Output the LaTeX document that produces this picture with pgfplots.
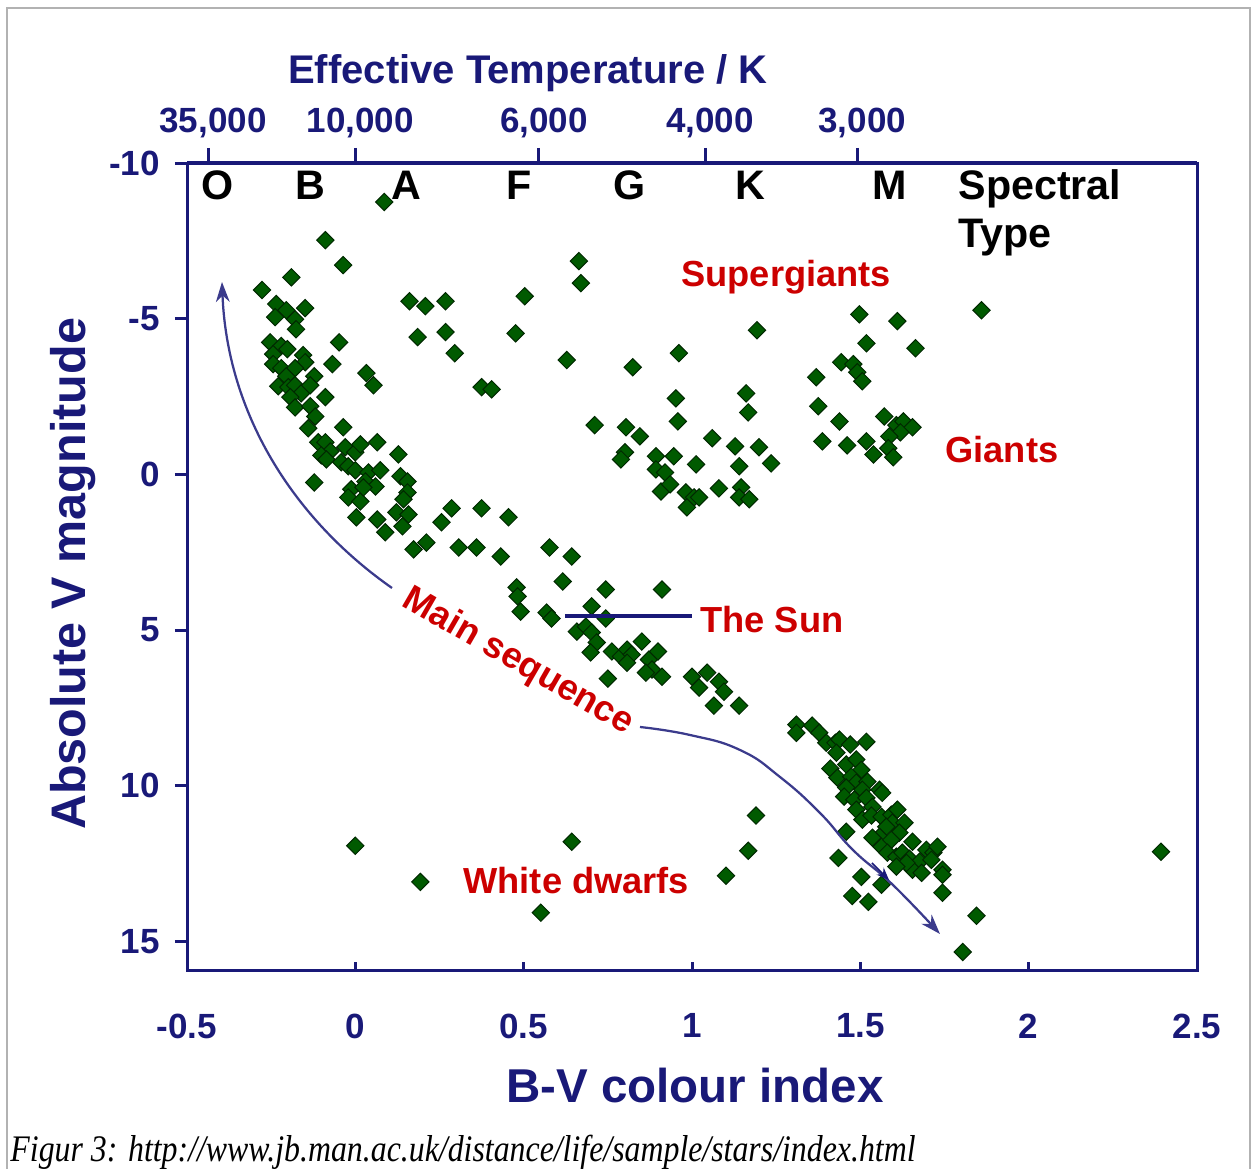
\documentclass[border=0pt]{standalone}
\usepackage{pgfplots}
\pgfplotsset{compat=1.18}
\usepackage{fontspec}
\setmainfont{Liberation Sans}
\newfontfamily\capfont{Liberation Serif}
\usetikzlibrary{arrows.meta}
\definecolor{navy}{RGB}{25,25,120}
\definecolor{lab}{RGB}{204,0,0}
\definecolor{star}{RGB}{0,90,0}
\definecolor{stare}{RGB}{0,40,0}
\begin{document}
\begin{tikzpicture}
\path[use as bounding box] (0pt,0pt) rectangle (500.8pt,-467.6pt);
\pgfplotsset{hr/.style={width=404pt,height=322.8pt,scale only axis,
  at={(74.8pt,-65.2pt)},anchor=north west,
  xmin=-0.5,xmax=2.5,ymin=-10,ymax=15.92,y dir=reverse,
  axis line style={navy,line width=1.2pt},
  tick style={navy,line width=1.2pt},
  ticklabel style={font=\fontsize{14}{16}\selectfont\bfseries,text=navy}}}
% main axis: data and bottom ticks
\begin{axis}[hr,
  xtick={-0.5,0,0.5,1,1.5,2,2.5},
  xticklabels={-0.5,0,0.5,1,1.5,2,2.5},
  xtick pos=bottom, tick align=inside, major tick length=3.2pt,
  xticklabel style={yshift=-14pt},
  ytick=\empty]
\addplot[only marks, mark=square*, mark size=2.45pt,
  mark options={rotate=45, fill=star, draw=stare, line width=0.4pt}]
coordinates {
(0.086,-8.75) (-0.089,-7.52) (-0.036,-6.72) (-0.190,-6.33) (-0.277,-5.92)
(-0.235,-5.47) (-0.205,-5.27) (-0.149,-5.34) (-0.238,-5.05) (-0.179,-4.98)
(-0.176,-4.66) (0.161,-5.56) (0.208,-5.40) (0.268,-5.56) (0.185,-4.41)
(0.268,-4.57) (0.295,-3.89) (-0.048,-4.24) (-0.068,-3.54) (0.033,-3.25)
(0.054,-2.86) (-0.253,-4.24) (-0.220,-4.12) (-0.202,-4.02) (-0.244,-3.86)
(-0.155,-3.83) (-0.149,-3.60) (-0.244,-3.54) (-0.220,-3.41) (-0.179,-3.41)
(-0.205,-3.15) (-0.122,-3.15) (-0.229,-2.83) (-0.199,-2.80) (-0.179,-2.86)
(-0.161,-2.60) (-0.134,-2.86) (-0.193,-2.48) (-0.179,-2.15) (-0.089,-2.48)
(-0.134,-2.19) (-0.119,-1.86) (-0.140,-1.48) (-0.036,-1.51) (-0.110,-1.03)
(-0.089,-1.03) (-0.074,-0.74) (-0.101,-0.61) (-0.086,-0.48) (-0.030,-0.87)
(0.000,-0.71) (0.015,-0.96) (0.065,-1.03) (-0.042,-0.39) (-0.021,-0.26)
(0.000,-0.13) (0.128,-0.64) (-0.122,0.26) (0.039,-0.06) (0.074,-0.13)
(0.030,0.23) (0.060,0.39) (-0.012,0.48) (-0.021,0.74) (0.015,0.87)
(0.024,0.42) (0.134,0.06) (0.155,0.23) (0.155,0.58) (0.143,0.80)
(0.122,1.22) (0.158,1.29) (0.140,1.67) (0.003,1.38) (0.065,1.45)
(0.089,1.86) (0.286,1.09) (0.375,1.09) (0.256,1.54) (0.455,1.38)
(0.211,2.19) (0.307,2.35) (0.360,2.35) (0.432,2.64) (0.173,2.41)
(0.577,2.35) (0.643,2.64) (0.616,3.44) (0.479,3.63) (0.482,3.92)
(0.491,4.41) (0.568,4.44) (0.583,4.63) (0.744,3.70) (0.911,3.70)
(0.702,4.24) (0.744,4.63) (0.658,5.05) (0.685,4.89) (0.702,5.08)
(0.717,5.40) (0.699,5.72) (0.762,5.69) (0.789,5.85) (0.807,5.63)
(0.821,5.79) (0.807,6.05) (0.851,5.37) (0.872,5.95) (0.899,5.69)
(0.881,6.27) (0.911,6.50) (0.863,6.37) (0.750,6.56) (1.000,6.50)
(1.045,6.37) (1.021,6.85) (1.080,6.66) (1.095,6.98) (1.065,7.43)
(1.140,7.43)
(0.664,-6.85) (0.670,-6.14) (0.503,-5.72) (0.476,-4.53) (0.375,-2.80)
(0.405,-2.73) (0.628,-3.67) (0.824,-3.44) (0.961,-3.89) (1.193,-4.63)
(0.952,-2.44) (0.958,-1.70) (1.161,-2.60) (1.167,-1.99) (0.711,-1.58)
(0.804,-1.51) (0.845,-1.22) (0.801,-0.71) (0.789,-0.48) (0.893,-0.58)
(0.946,-0.58) (1.060,-1.16) (1.128,-0.90) (1.199,-0.87) (1.235,-0.35)
(1.012,-0.32) (1.140,-0.26) (0.893,-0.16) (0.920,-0.06) (0.908,0.55)
(0.935,0.32) (0.982,0.58) (1.006,0.74) (1.021,0.74) (0.985,1.06)
(1.080,0.45) (1.146,0.42) (1.140,0.74) (1.170,0.80)
(1.369,-3.12) (1.375,-2.19) (1.438,-1.70) (1.387,-1.06) (1.461,-0.93)
(1.443,-3.60) (1.479,-3.54) (1.491,-3.28) (1.506,-2.99) (1.497,-5.14)
(1.610,-4.92) (1.860,-5.27) (1.518,-4.21) (1.664,-4.05) (1.518,-1.06)
(1.539,-0.64) (1.571,-1.86) (1.607,-1.58) (1.628,-1.70) (1.655,-1.51)
(1.619,-1.35) (1.586,-1.22) (1.583,-0.84) (1.598,-0.55)
(0.000,11.93) (0.193,13.09) (0.643,11.80) (0.551,14.08) (1.190,10.96)
(1.167,12.09) (1.101,12.89) (2.393,12.12) (1.845,14.18) (1.804,15.34)
(1.744,13.44)
(1.310,8.04) (1.310,8.30) (1.357,8.07) (1.378,8.30) (1.399,8.62)
(1.426,8.62) (1.438,8.52) (1.429,8.94) (1.470,8.68) (1.518,8.59)
(1.411,9.45) (1.432,9.74) (1.458,9.32) (1.488,9.16) (1.503,9.49)
(1.473,9.71) (1.488,9.90) (1.521,9.87) (1.458,10.06) (1.506,10.13)
(1.557,10.13) (1.565,10.23) (1.452,10.35) (1.482,10.45) (1.518,10.39)
(1.536,10.68) (1.488,10.77) (1.506,11.09) (1.533,10.96) (1.563,11.00)
(1.592,10.93) (1.610,10.77) (1.595,11.19) (1.631,11.19) (1.616,11.51)
(1.577,11.32) (1.557,11.64) (1.536,11.67) (1.563,11.96) (1.592,11.74)
(1.580,12.15) (1.607,12.28) (1.625,12.15) (1.655,11.80) (1.646,12.35)
(1.676,12.44) (1.696,12.06) (1.717,12.15) (1.729,11.96) (1.711,12.38)
(1.655,12.70) (1.682,12.80) (1.744,12.70) (1.744,12.86) (1.458,11.48)
(1.435,12.32) (1.503,12.93) (1.637,12.48) (1.607,12.60) (1.476,13.54)
(1.524,13.73) (1.563,13.18)
};
\end{axis}
% left axis ticks (outside)
\begin{axis}[hr, hide x axis,
  ytick={-10,-5,0,5,10,15},
  yticklabels={-10,-5,0,5,10,15},
  ytick pos=left, tick align=outside, major tick length=4.8pt,
  yticklabel style={xshift=-2.5pt}]
\end{axis}
% top temperature axis
\begin{axis}[hr, hide y axis, axis x line*=top,
  xtick={-0.4375,0,0.545,1.039,1.491},
  xticklabels={{35,000},{10,000},{6,000},{4,000},{3,000}},
  tick align=outside, major tick length=6pt,
  xticklabel style={yshift=0.5pt,xshift=2pt}]
\end{axis}
\begin{scope}[x=0.4pt,y=-0.4pt]
\draw[gray!60,line width=0.5pt] (7,8) rectangle (1250,1180);
% axis titles
\node[font=\fontsize{16}{18}\selectfont\bfseries,text=navy] at (528,73) {Effective Temperature / K};
\node[rotate=90,font=\fontsize{19.4}{22}\selectfont\bfseries,text=navy] at (73,574) {Absolute V magnitude};
\node[font=\fontsize{19}{22}\selectfont\bfseries,text=navy] at (695,1086) {B-V colour index};
% spectral types
\begin{scope}[every node/.style={font=\fontsize{16.5}{18}\selectfont\bfseries,anchor=base,inner sep=0pt}]
\node at (218,200) {O};
\node at (310,200) {B};
\node at (406,200) {A};
\node at (519,200) {F};
\node at (630,200) {G};
\node at (750,200) {K};
\node at (890,200) {M};
\node[anchor=base west] at (958,200) {Spectral};
\node[anchor=base west] at (958,248) {Type};
\end{scope}
% region labels
\begin{scope}[every node/.style={font=\fontsize{14.5}{16}\selectfont\bfseries,text=lab,inner sep=0pt,anchor=base west}]
\node at (681,287) {Supergiants};
\node at (945,463) {Giants};
\node at (700,633) {The Sun};
\node at (463,894) {White dwarfs};
\node[anchor=center,rotate=-30] at (518,662) {Main sequence};
\end{scope}
% the Sun marker line
\draw[navy,line width=1.6pt] (565,616) -- (692,616);
% main sequence arrows
\draw[navy!85,line width=0.9pt,-{Stealth[length=8pt,width=5.5pt]}] (392,588) .. controls (292,518) and (227,412) .. (222,282);
\draw[navy!85,line width=0.9pt,-{Stealth[length=8pt,width=5.5pt]}] plot[smooth,tension=0.8] coordinates {(640,727) (690,735) (740,750) (780,777) (820,813) (853,850) (893,885) (940,934)};
\draw[navy,line width=0.6pt,-{Stealth[length=5pt,width=4pt]}] (872,863) -- (889,880);
% caption
\node[anchor=base west,inner sep=0pt] at (10,1162) {\resizebox{362pt}{\height}{\capfont\itshape\fontsize{15}{18}\selectfont Figur 3: http://www.jb.man.ac.uk/distance/life/sample/stars/index.html}};
\end{scope}
\end{tikzpicture}
\end{document}
